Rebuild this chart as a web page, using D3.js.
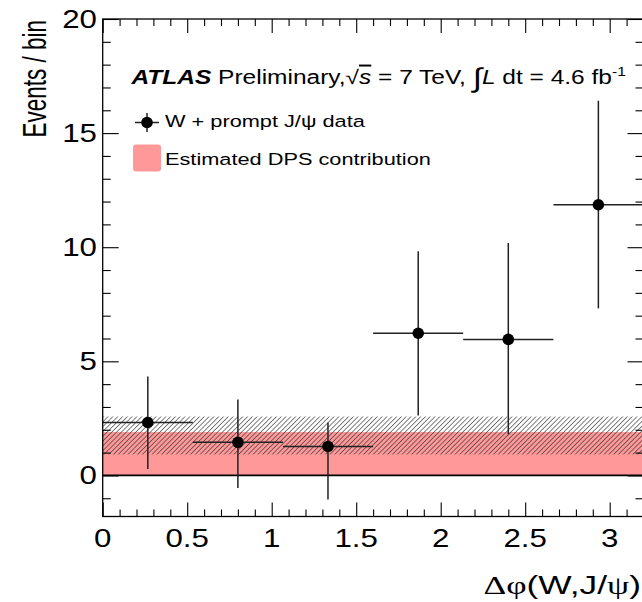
<!DOCTYPE html>
<html>
<head>
<meta charset="utf-8">
<script src="https://cdn.jsdelivr.net/npm/d3@7"></script>
<style>
  html, body { margin: 0; padding: 0; background: #fff; }
  svg { display: block; }
  text { font-family: "Liberation Sans", Arial, Helvetica, sans-serif; fill: #000; }
</style>
</head>
<body>
<svg id="chart" width="642" height="602"></svg>
<script>
// ---- data ----
const binLow    = [0, 0.533, 1.067, 1.6, 2.133, 2.667];
const binHigh   = [0.533, 1.067, 1.6, 2.133, 2.667, 3.2];
const binCenter = [0.267, 0.8, 1.333, 1.867, 2.4, 2.933];
const eventsPerBin = [2.32, 1.45, 1.27, 6.23, 5.96, 11.86];
const errUpper     = [4.34, 3.33, 2.32, 9.82, 10.18, 16.42];
const errLower     = [0.28, -0.55, -1.05, 2.63, 1.8, 7.32];
const dpsEstimate  = [1.9];
const dpsBand      = [0.92, 2.58];
const xMajorTicks  = [0, 0.5, 1, 1.5, 2, 2.5, 3];
const xTickLabels  = ["0", "0.5", "1", "1.5", "2", "2.5", "3"];
const yMajorTicks  = [0, 5, 10, 15, 20];
const yTickLabels  = ["0", "5", "10", "15", "20"];
const xDomain = [0, 3.2];
const yDomain = [-1.8, 20];

// ---- layout ----
const svg = d3.select("#chart");
const L = 102.7, R = 643.5, T = 19, B = 516.5;
const SX = 1.25;   // horizontal stretch of the reference text

const x = d3.scaleLinear().domain(xDomain).range([L, R]);
const y = d3.scaleLinear().domain(yDomain).range([B, T]);

const defs = svg.append("defs");
defs.append("clipPath").attr("id", "plotclip")
  .append("rect").attr("x", L).attr("y", T).attr("width", R - L).attr("height", B - T);
const pat = defs.append("pattern").attr("id", "hatch")
  .attr("patternUnits", "userSpaceOnUse").attr("width", 3.4).attr("height", 3.4)
  .attr("patternTransform", "rotate(45)");
pat.append("line").attr("x1", 0).attr("y1", 0).attr("x2", 0).attr("y2", 3.4)
  .attr("stroke", "#2a2a2a").attr("stroke-width", 1.2);

const plot = svg.append("g").attr("clip-path", "url(#plotclip)");

// DPS contribution (pink)
plot.append("rect")
  .attr("x", x(xDomain[0])).attr("width", x(xDomain[1]) - x(xDomain[0]))
  .attr("y", y(dpsEstimate[0])).attr("height", y(0) - y(dpsEstimate[0]))
  .attr("fill", "#ff9999");
// uncertainty hatch
plot.append("rect")
  .attr("x", x(xDomain[0])).attr("width", x(xDomain[1]) - x(xDomain[0]))
  .attr("y", y(dpsBand[1])).attr("height", y(dpsBand[0]) - y(dpsBand[1]))
  .attr("fill", "url(#hatch)");
// zero line
plot.append("line").attr("x1", x(xDomain[0])).attr("x2", x(xDomain[1]))
  .attr("y1", y(0)).attr("y2", y(0)).attr("stroke", "#000").attr("stroke-width", 1.6);

// data points
const pts = binCenter.map((c, i) => ({c, lo: binLow[i], hi: binHigh[i], v: eventsPerBin[i], eu: errUpper[i], ed: errLower[i]}));
const pg = plot.append("g");
pg.selectAll("line.h").data(pts).join("line").attr("class", "h")
  .attr("x1", d => x(d.lo)).attr("x2", d => x(d.hi))
  .attr("y1", d => y(d.v)).attr("y2", d => y(d.v))
  .attr("stroke", "#222").attr("stroke-width", 1.5);
pg.selectAll("line.v").data(pts).join("line").attr("class", "v")
  .attr("x1", d => x(d.c)).attr("x2", d => x(d.c))
  .attr("y1", d => y(d.eu)).attr("y2", d => y(d.ed))
  .attr("stroke", "#222").attr("stroke-width", 1.5);
pg.selectAll("circle").data(pts).join("circle")
  .attr("cx", d => x(d.c)).attr("cy", d => y(d.v)).attr("r", 5.8).attr("fill", "#000");

// ---- axes (ticks inward, mirrored) ----
function styleAxis(g) {
  g.select(".domain").remove();
  g.selectAll("line").attr("stroke", "#000").attr("stroke-width", 1.1);
}
const xMinor = d3.range(0, 32.5).map(k => k / 10).filter(v => Math.abs(v * 2 - Math.round(v * 2)) > 1e-6);
const yMinor = d3.range(-1, 20).filter(v => v % 5 !== 0);

svg.append("g").attr("transform", `translate(0,${B})`)
  .call(d3.axisBottom(x).tickValues(xMajorTicks).tickSizeInner(-14).tickSizeOuter(0).tickFormat("")).call(styleAxis);
svg.append("g").attr("transform", `translate(0,${B})`)
  .call(d3.axisBottom(x).tickValues(xMinor).tickSizeInner(-7).tickSizeOuter(0).tickFormat("")).call(styleAxis);
svg.append("g").attr("transform", `translate(0,${T})`)
  .call(d3.axisTop(x).tickValues(xMajorTicks).tickSizeInner(-14).tickSizeOuter(0).tickFormat("")).call(styleAxis);
svg.append("g").attr("transform", `translate(0,${T})`)
  .call(d3.axisTop(x).tickValues(xMinor).tickSizeInner(-7).tickSizeOuter(0).tickFormat("")).call(styleAxis);
svg.append("g").attr("transform", `translate(${L},0)`)
  .call(d3.axisLeft(y).tickValues(yMajorTicks).tickSizeInner(-16).tickSizeOuter(0).tickFormat("")).call(styleAxis);
svg.append("g").attr("transform", `translate(${L},0)`)
  .call(d3.axisLeft(y).tickValues(yMinor).tickSizeInner(-8).tickSizeOuter(0).tickFormat("")).call(styleAxis);
svg.append("g").attr("transform", `translate(${R},0)`)
  .call(d3.axisRight(y).tickValues(yMajorTicks).tickSizeInner(-16).tickSizeOuter(0).tickFormat("")).call(styleAxis);
svg.append("g").attr("transform", `translate(${R},0)`)
  .call(d3.axisRight(y).tickValues(yMinor).tickSizeInner(-8).tickSizeOuter(0).tickFormat("")).call(styleAxis);

// frame
svg.append("rect").attr("x", L).attr("y", T).attr("width", R - L).attr("height", B - T)
  .attr("fill", "none").attr("stroke", "#000").attr("stroke-width", 1.3);

// ---- tick labels ----
function stretchedText(px, py, anchor, size, sx) {
  return svg.append("text")
    .attr("transform", `translate(${px},${py}) scale(${sx || SX},1)`)
    .attr("text-anchor", anchor).attr("font-size", size);
}
xMajorTicks.forEach((v, i) => stretchedText(x(v), 547, "middle", 25).text(xTickLabels[i]));
yMajorTicks.forEach((v, i) => stretchedText(97, y(v) + 9, "end", 25).text(yTickLabels[i]));

// ---- axis titles ----
svg.append("text")
  .attr("transform", `translate(46,20) rotate(-90) scale(1,1.45)`)
  .attr("text-anchor", "end").attr("font-size", 22.5).text("Events / bin");

const xt = stretchedText(641, 594, "end", 26, 1.36);
xt.append("tspan").attr("font-family", "Liberation Serif, serif").text("Δφ");
xt.append("tspan").text("(W,J/");
xt.append("tspan").attr("font-family", "Liberation Serif, serif").text("ψ");
xt.append("tspan").text(")");

// ---- title ----
const tt = stretchedText(131.5, 84, "start", 19.6);
tt.append("tspan").attr("font-weight", "bold").attr("font-style", "italic").text("ATLAS");
tt.append("tspan").text(" Preliminary,√");
tt.append("tspan").attr("font-style", "italic").attr("text-decoration", "overline").text("s");
tt.append("tspan").text(" = 7 TeV, ");
tt.append("tspan").attr("font-size", 27).attr("dy", 3).text("∫");
tt.append("tspan").attr("font-style", "italic").attr("dy", -3).text("L");
tt.append("tspan").text(" dt = 4.6 fb");
tt.append("tspan").attr("font-size", 12.5).attr("dy", -8).text("-1");

// ---- legend ----
const lg = svg.append("g");
lg.append("line").attr("x1", 135).attr("x2", 159).attr("y1", 122.5).attr("y2", 122.5).attr("stroke", "#222").attr("stroke-width", 1.5);
lg.append("line").attr("x1", 147).attr("x2", 147).attr("y1", 113).attr("y2", 132).attr("stroke", "#222").attr("stroke-width", 1.5);
lg.append("circle").attr("cx", 147).attr("cy", 122.5).attr("r", 5.8).attr("fill", "#000");
stretchedText(165, 126.5, "start", 17.4).text("W + prompt J/ψ data");
lg.append("rect").attr("x", 133).attr("y", 144.5).attr("width", 28).attr("height", 27).attr("rx", 3)
  .attr("fill", "#ff9999");
stretchedText(165, 165, "start", 17.4).text("Estimated DPS contribution");
</script>
</body>
</html>
